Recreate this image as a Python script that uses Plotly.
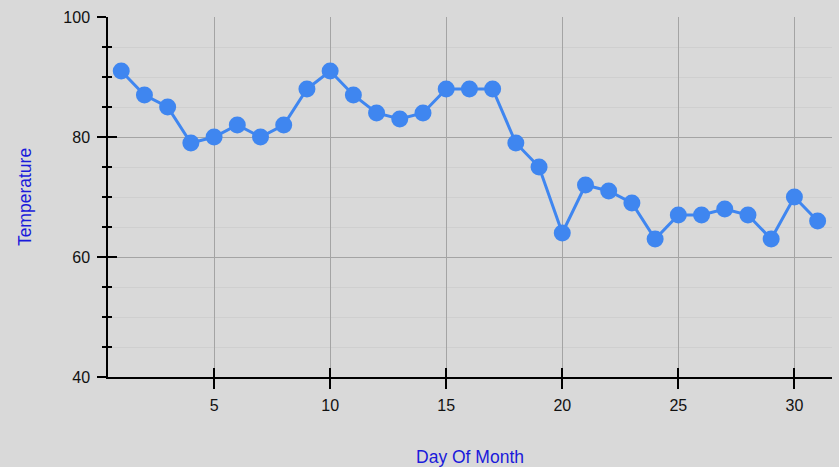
import plotly.graph_objects as go

days = list(range(1, 32))
temps = [91, 87, 85, 79, 80, 82, 80, 82, 88, 91, 87, 84, 83, 84, 88, 88, 88,
         79, 75, 64, 72, 71, 69, 63, 67, 67, 68, 67, 63, 70, 66]
x_ticks = [5, 10, 15, 20, 25, 30]
y_ticks = [40, 60, 80, 100]

fig = go.Figure()
fig.add_trace(go.Scatter(
    x=days, y=temps, mode="lines+markers",
    line=dict(color="#3f86f0", width=3),
    marker=dict(color="#3f86f0", size=17),
    showlegend=False,
))
# invisible trace to carry the inner half of the crossing ticks
fig.add_trace(go.Scatter(x=[days[0]], y=[temps[0]], xaxis="x2", yaxis="y2",
                         mode="markers", marker=dict(opacity=0), showlegend=False,
                         hoverinfo="skip"))

font = dict(family="Liberation Sans, Arial, sans-serif", size=16, color="#111111")
xr = [0.43, 31.62]
yr = [40, 100]
fig.update_layout(
    width=839, height=467,
    paper_bgcolor="#d9d9d9", plot_bgcolor="#d9d9d9",
    margin=dict(l=108, r=7, t=17, b=90),
    font=font,
    xaxis=dict(
        range=xr, tickvals=x_ticks, ticks="outside", ticklen=10,
        tickcolor="black", tickwidth=1.5, automargin=False,
        showline=True, linecolor="black", linewidth=1.5,
        showgrid=True, gridcolor="#a4a4a4", gridwidth=1.3, zeroline=False,
        title=dict(text="Day Of Month", font=dict(color="#1a1adb", size=17.5), standoff=42),
        ticklabelstandoff=3,
    ),
    yaxis=dict(
        range=yr, tickvals=y_ticks, ticks="outside", ticklen=9,
        tickcolor="black", tickwidth=1.5, automargin=False,
        showline=True, linecolor="black", linewidth=1.5,
        showgrid=True, gridcolor="#a4a4a4", gridwidth=1.3, zeroline=False,
        minor=dict(dtick=5, ticks="outside", ticklen=4, tickcolor="black",
                   showgrid=True, gridcolor="#cfcfcf", gridwidth=1),
        title=dict(text="Temperature", font=dict(color="#1a1adb", size=17.5), standoff=27),
        ticklabelstandoff=4,
    ),
    xaxis2=dict(
        range=xr, overlaying="x", side="bottom", tickvals=x_ticks, ticks="inside",
        ticklen=9, tickcolor="black", tickwidth=1.5, showticklabels=False,
        showgrid=False, zeroline=False, showline=False, automargin=False,
    ),
    yaxis2=dict(
        range=yr, overlaying="y", side="left", tickvals=y_ticks, ticks="inside",
        ticklen=9, tickcolor="black", tickwidth=1.5, showticklabels=False,
        showgrid=False, zeroline=False, showline=False, automargin=False,
        minor=dict(dtick=5, ticks="inside", ticklen=4, tickcolor="black", showgrid=False),
    ),
)
fig.write_html("out.html", config={"displayModeBar": False},
               post_script="document.body.style.margin='0';")
